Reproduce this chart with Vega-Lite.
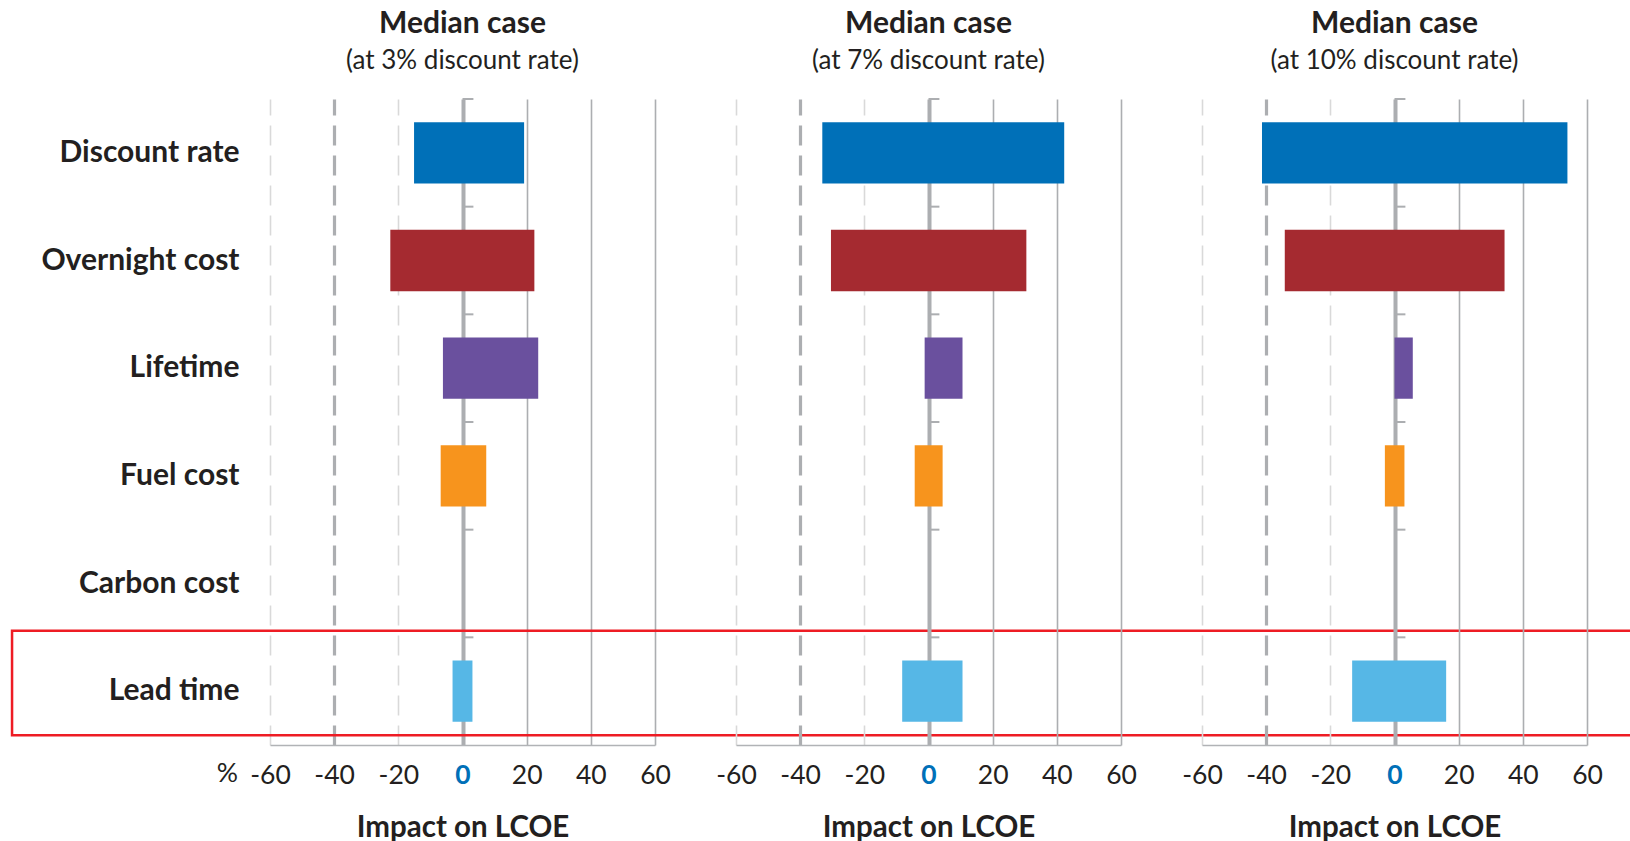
{
  "$schema": "https://vega.github.io/schema/vega-lite/v6.json",
  "padding": {"left": 10, "top": 9, "right": -30, "bottom": 0},
  "background": "white",
  "bounds": "flush",
  "spacing": 81,
  "config": {"font": "Lato", "view": {"stroke": null}},
  "data": {"values": [
    {"panel": "3%", "factor": "Discount rate", "low": -15.1, "high": 19.2},
    {"panel": "3%", "factor": "Overnight cost", "low": -22.5, "high": 22.4},
    {"panel": "3%", "factor": "Lifetime", "low": -6.1, "high": 23.6},
    {"panel": "3%", "factor": "Fuel cost", "low": -6.8, "high": 7.4},
    {"panel": "3%", "factor": "Carbon cost", "low": null, "high": null},
    {"panel": "3%", "factor": "Lead time", "low": -3.1, "high": 3.1},
    {"panel": "7%", "factor": "Discount rate", "low": -33.1, "high": 42.3},
    {"panel": "7%", "factor": "Overnight cost", "low": -30.4, "high": 30.5},
    {"panel": "7%", "factor": "Lifetime", "low": -1.2, "high": 10.6},
    {"panel": "7%", "factor": "Fuel cost", "low": -4.3, "high": 4.4},
    {"panel": "7%", "factor": "Carbon cost", "low": null, "high": null},
    {"panel": "7%", "factor": "Lead time", "low": -8.2, "high": 10.6},
    {"panel": "10%", "factor": "Discount rate", "low": -41.3, "high": 53.9},
    {"panel": "10%", "factor": "Overnight cost", "low": -34.2, "high": 34.3},
    {"panel": "10%", "factor": "Lifetime", "low": 0, "high": 5.7},
    {"panel": "10%", "factor": "Fuel cost", "low": -3.0, "high": 3.1},
    {"panel": "10%", "factor": "Carbon cost", "low": null, "high": null},
    {"panel": "10%", "factor": "Lead time", "low": -13.2, "high": 16.1}
  ]},
  "hconcat": [
    {
      "width": 385, "height": 646,
      "title": {"text": "Median case", "subtitle": "(at 3% discount rate)", "frame": "group", "anchor": "middle", "font": "Lato", "fontSize": 30, "fontWeight": "bold", "color": "#231f20", "subtitleFont": "Lato", "subtitleFontSize": 26, "subtitleColor": "#231f20", "subtitlePadding": 9, "offset": 24},
      "transform": [{"filter": "datum.panel === '3%'"}],
      "layer": [
        {
          "mark": {"type": "bar", "height": {"band": 0.57}},
          "encoding": {
            "y": {"field": "factor", "type": "nominal", "title": null,
              "scale": {"domain": ["Discount rate", "Overnight cost", "Lifetime", "Fuel cost", "Carbon cost", "Lead time"], "paddingInner": 0, "paddingOuter": 0},
              "axis": {"domain": false, "ticks": false, "labelFont": "Lato", "labelFontSize": 30, "labelFontWeight": "bold", "labelColor": "#231f20", "labelPadding": 31, "labelLimit": 0}},
            "x": {"field": "low", "type": "quantitative",
              "scale": {"domain": [-60, 60], "nice": false, "zero": false},
              "axis": {"values": [-60, -40, -20, 0, 20, 40, 60],
                "labelExpr": "toString(datum.value)",
                "title": "Impact on LCOE", "titleFont": "Lato", "titleFontSize": 29.5, "titleFontWeight": "bold", "titleColor": "#231f20", "titlePadding": 25,
                "labelFont": "Lato", "labelFontSize": 26.5, "labelPadding": 17, "labelFlush": false, "labelOverlap": false,
                "labelColor": {"condition": {"test": "datum.value === 0", "value": "#0070b8"}, "value": "#231f20"},
                "labelFontWeight": {"condition": {"test": "datum.value === 0", "value": "bold"}, "value": "normal"},
                "ticks": false, "domainColor": "#b1b3b6", "domainWidth": 1.5,
                "grid": true,
                "gridColor": {"condition": {"test": "datum.value === -60 || datum.value === -20", "value": "#d9d9d9"}, "value": "#acaeb1"},
                "gridDash": {"condition": {"test": "datum.value < 0", "value": [20, 10]}, "value": []},
                "gridWidth": {"condition": [{"test": "datum.value === 0", "value": 4}, {"test": "datum.value === -40", "value": 3.2}], "value": 1.6}}},
            "x2": {"field": "high"},
            "color": {"field": "factor", "type": "nominal", "legend": null,
              "scale": {"domain": ["Discount rate", "Overnight cost", "Lifetime", "Fuel cost", "Carbon cost", "Lead time"], "range": ["#0070b8", "#a52a30", "#6a509e", "#f7941d", "#999999", "#56b7e6"]}}
          }
        },
        {
          "mark": {"type": "rule", "color": "#acaeb1", "strokeWidth": 2},
          "encoding": {"x": {"datum": 0}, "x2": {"datum": 3.4}, "y": {"field": "factor", "type": "nominal", "bandPosition": 0}}
        },
        {
          "data": {"values": [{"unit": "%"}]},
          "mark": {"type": "text", "font": "Lato", "fontSize": 26.5, "color": "#231f20", "baseline": "middle", "align": "center"},
          "encoding": {"text": {"field": "unit"}, "x": {"datum": -73.3}, "y": {"datum": "Lead time", "bandPosition": 1.265}}
        },
        {
          "data": {"values": [{"box": "highlight"}]},
          "mark": {"type": "rect", "fill": null, "stroke": "#ee1c24", "strokeWidth": 2.5},
          "encoding": {"x": {"datum": -140.4}, "x2": {"datum": 373.6}, "y": {"datum": "Lead time", "bandPosition": -0.06}, "y2": {"datum": "Lead time", "bandPosition": 0.91}}
        }
      ]
    },
    {
      "width": 385, "height": 646,
      "title": {"text": "Median case", "subtitle": "(at 7% discount rate)", "frame": "group", "anchor": "middle", "font": "Lato", "fontSize": 30, "fontWeight": "bold", "color": "#231f20", "subtitleFont": "Lato", "subtitleFontSize": 26, "subtitleColor": "#231f20", "subtitlePadding": 9, "offset": 24},
      "transform": [{"filter": "datum.panel === '7%'"}],
      "layer": [
        {
          "mark": {"type": "bar", "height": {"band": 0.57}},
          "encoding": {
            "y": {"field": "factor", "type": "nominal", "title": null,
              "scale": {"domain": ["Discount rate", "Overnight cost", "Lifetime", "Fuel cost", "Carbon cost", "Lead time"], "paddingInner": 0, "paddingOuter": 0},
              "axis": null},
            "x": {"field": "low", "type": "quantitative",
              "scale": {"domain": [-60, 60], "nice": false, "zero": false},
              "axis": {"values": [-60, -40, -20, 0, 20, 40, 60],
                "labelExpr": "toString(datum.value)",
                "title": "Impact on LCOE", "titleFont": "Lato", "titleFontSize": 29.5, "titleFontWeight": "bold", "titleColor": "#231f20", "titlePadding": 25,
                "labelFont": "Lato", "labelFontSize": 26.5, "labelPadding": 17, "labelFlush": false, "labelOverlap": false,
                "labelColor": {"condition": {"test": "datum.value === 0", "value": "#0070b8"}, "value": "#231f20"},
                "labelFontWeight": {"condition": {"test": "datum.value === 0", "value": "bold"}, "value": "normal"},
                "ticks": false, "domainColor": "#b1b3b6", "domainWidth": 1.5,
                "grid": true,
                "gridColor": {"condition": {"test": "datum.value === -60 || datum.value === -20", "value": "#d9d9d9"}, "value": "#acaeb1"},
                "gridDash": {"condition": {"test": "datum.value < 0", "value": [20, 10]}, "value": []},
                "gridWidth": {"condition": [{"test": "datum.value === 0", "value": 4}, {"test": "datum.value === -40", "value": 3.2}], "value": 1.6}}},
            "x2": {"field": "high"},
            "color": {"field": "factor", "type": "nominal", "legend": null,
              "scale": {"domain": ["Discount rate", "Overnight cost", "Lifetime", "Fuel cost", "Carbon cost", "Lead time"], "range": ["#0070b8", "#a52a30", "#6a509e", "#f7941d", "#999999", "#56b7e6"]}}
          }
        },
        {
          "mark": {"type": "rule", "color": "#acaeb1", "strokeWidth": 2},
          "encoding": {"x": {"datum": 0}, "x2": {"datum": 3.4}, "y": {"field": "factor", "type": "nominal", "bandPosition": 0}}
        }
      ]
    },
    {
      "width": 385, "height": 646,
      "title": {"text": "Median case", "subtitle": "(at 10% discount rate)", "frame": "group", "anchor": "middle", "font": "Lato", "fontSize": 30, "fontWeight": "bold", "color": "#231f20", "subtitleFont": "Lato", "subtitleFontSize": 26, "subtitleColor": "#231f20", "subtitlePadding": 9, "offset": 24},
      "transform": [{"filter": "datum.panel === '10%'"}],
      "layer": [
        {
          "mark": {"type": "bar", "height": {"band": 0.57}},
          "encoding": {
            "y": {"field": "factor", "type": "nominal", "title": null,
              "scale": {"domain": ["Discount rate", "Overnight cost", "Lifetime", "Fuel cost", "Carbon cost", "Lead time"], "paddingInner": 0, "paddingOuter": 0},
              "axis": null},
            "x": {"field": "low", "type": "quantitative",
              "scale": {"domain": [-60, 60], "nice": false, "zero": false},
              "axis": {"values": [-60, -40, -20, 0, 20, 40, 60],
                "labelExpr": "toString(datum.value)",
                "title": "Impact on LCOE", "titleFont": "Lato", "titleFontSize": 29.5, "titleFontWeight": "bold", "titleColor": "#231f20", "titlePadding": 25,
                "labelFont": "Lato", "labelFontSize": 26.5, "labelPadding": 17, "labelFlush": false, "labelOverlap": false,
                "labelColor": {"condition": {"test": "datum.value === 0", "value": "#0070b8"}, "value": "#231f20"},
                "labelFontWeight": {"condition": {"test": "datum.value === 0", "value": "bold"}, "value": "normal"},
                "ticks": false, "domainColor": "#b1b3b6", "domainWidth": 1.5,
                "grid": true,
                "gridColor": {"condition": {"test": "datum.value === -60 || datum.value === -20", "value": "#d9d9d9"}, "value": "#acaeb1"},
                "gridDash": {"condition": {"test": "datum.value < 0", "value": [20, 10]}, "value": []},
                "gridWidth": {"condition": [{"test": "datum.value === 0", "value": 4}, {"test": "datum.value === -40", "value": 3.2}], "value": 1.6}}},
            "x2": {"field": "high"},
            "color": {"field": "factor", "type": "nominal", "legend": null,
              "scale": {"domain": ["Discount rate", "Overnight cost", "Lifetime", "Fuel cost", "Carbon cost", "Lead time"], "range": ["#0070b8", "#a52a30", "#6a509e", "#f7941d", "#999999", "#56b7e6"]}}
          }
        },
        {
          "mark": {"type": "rule", "color": "#acaeb1", "strokeWidth": 2},
          "encoding": {"x": {"datum": 0}, "x2": {"datum": 3.4}, "y": {"field": "factor", "type": "nominal", "bandPosition": 0}}
        }
      ]
    }
  ]
}
